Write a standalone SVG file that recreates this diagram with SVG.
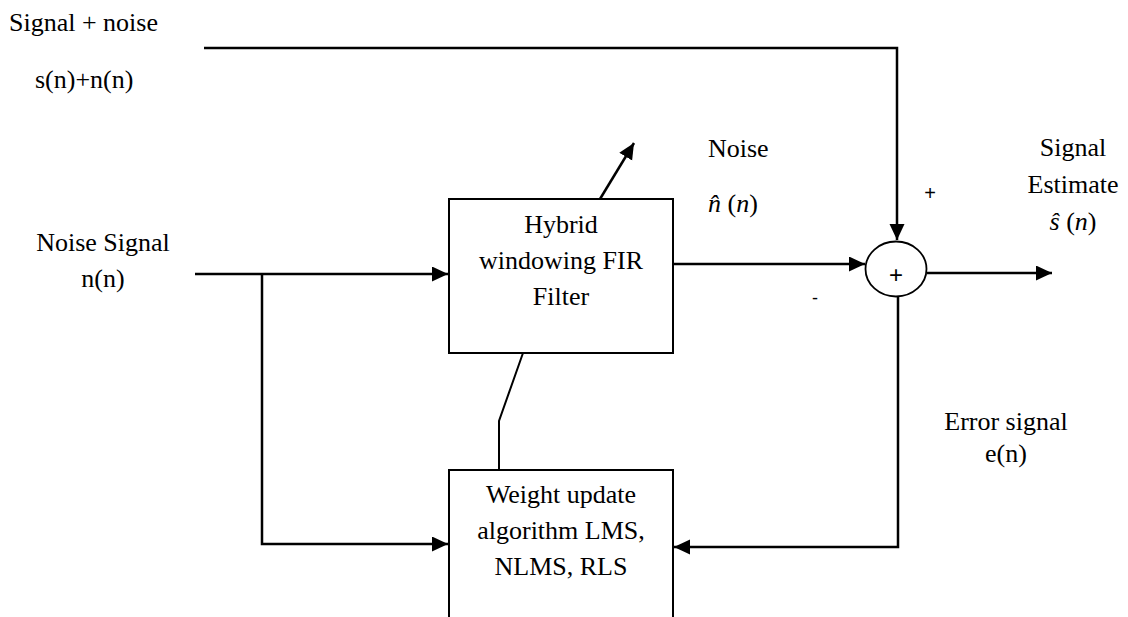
<svg xmlns="http://www.w3.org/2000/svg" width="1128" height="617" viewBox="0 0 1128 617">
<style>
text{font-size:26px;fill:#000;font-family:'Liberation Serif','Times New Roman',serif}
.c{text-anchor:middle}
.m{font-style:italic}
.ln{fill:none;stroke:#000;stroke-width:2.5}
.bx{fill:#fff;stroke:#000;stroke-width:2}
.sg{font-family:'Liberation Sans',Arial,sans-serif;font-size:20px}
</style>
<defs>
<marker id="ah" markerUnits="userSpaceOnUse" markerWidth="17" markerHeight="16" refX="16" refY="7.5" orient="auto">
<path d="M0,0 L16,7.5 L0,15 z" fill="#000"/>
</marker>
</defs>
<rect width="1128" height="617" fill="#fff"/>
<g id="connectors">
<path class="ln" d="M204,48 H897 V240" marker-end="url(#ah)"/>
<path class="ln" d="M195,274 H448" marker-end="url(#ah)"/>
<path class="ln" d="M262,274 V544 H448" marker-end="url(#ah)"/>
<path class="ln" d="M673,264 H865" marker-end="url(#ah)"/>
<path class="ln" d="M927,273 H1052" marker-end="url(#ah)"/>
<path class="ln" d="M898,297 V547 H674" marker-end="url(#ah)"/>
<path class="ln" d="M600,199 L634,143" marker-end="url(#ah)"/>
<path class="ln" d="M523,353 L499,421 V470" style="stroke-width:2"/>
</g>
<g id="fir">
<rect class="bx" x="449" y="199" width="224" height="154"/>
<text class="c" x="561" y="233">Hybrid</text>
<text class="c" x="561" y="269">windowing FIR</text>
<text class="c" x="561" y="305">Filter</text>
</g>
<g id="weight">
<rect class="bx" x="449" y="470" width="224" height="170"/>
<text class="c" x="561" y="503">Weight update</text>
<text class="c" x="561" y="539">algorithm LMS,</text>
<text class="c" x="561" y="575">NLMS, RLS</text>
</g>
<g id="sum">
<ellipse cx="896" cy="269" rx="30.5" ry="27.5" fill="#fff" stroke="#000" stroke-width="1.8"/>
<text class="c sg" x="896" y="283" style="font-size:24px">+</text>
</g>
<g id="labels">
<text x="9" y="31">Signal + noise</text>
<text x="35" y="88">s(n)+n(n)</text>
<text class="c" x="103" y="251">Noise Signal</text>
<text class="c" x="103" y="287">n(n)</text>
<text x="708" y="157">Noise</text>
<text x="708" y="212"><tspan class="m">n&#770;</tspan> (<tspan class="m">n</tspan>)</text>
<text class="c" x="1073" y="156">Signal</text>
<text class="c" x="1073" y="193">Estimate</text>
<text class="c" x="1073" y="230"><tspan class="m">s&#770;</tspan> (<tspan class="m">n</tspan>)</text>
<text class="c sg" x="930" y="200">+</text>
<text class="c sg" x="815" y="304" style="font-size:18px">-</text>
<text class="c" x="1006" y="430">Error signal</text>
<text class="c" x="1006" y="462">e(n)</text>
</g>
</svg>
